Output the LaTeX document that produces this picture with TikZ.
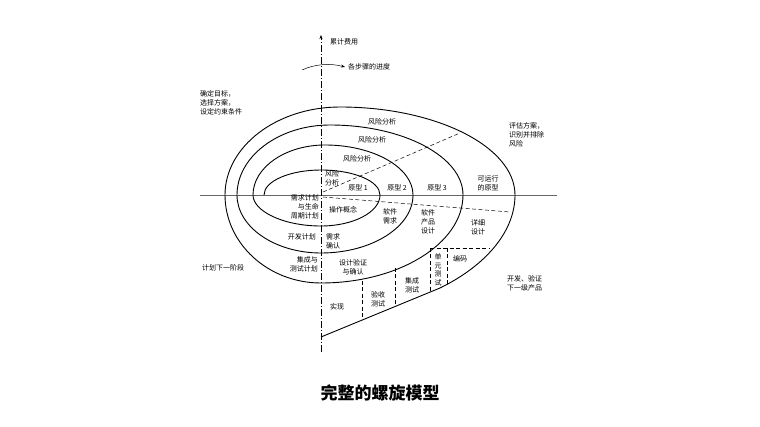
\documentclass[tikz,border=0pt]{standalone}
\usepackage{fontspec}
\setmainfont{Liberation Serif}
\newfontfamily\cjk{Noto Sans CJK SC}
\usetikzlibrary{arrows.meta}
\begin{document}
\begin{tikzpicture}[x=1pt,y=-1pt,
  lbl/.style={font=\cjk\fontsize{7}{9}\selectfont, inner sep=0pt, align=center},
  spir/.style={line width=0.9pt},
  dsh/.style={dash pattern=on 4pt off 2.5pt, line width=0.5pt}]
\useasboundingbox (0,0) rectangle (760,427);
% axes
\coordinate (xl) at (200,195); \coordinate (xr) at (557,195);
\coordinate (yt) at (321,35); \coordinate (yb) at (321,352);
\draw[gray!80!black, line width=0.7pt] (xl) -- (xr);
\draw[line width=0.5pt, dash pattern=on 7pt off 2pt on 1pt off 2pt, -{Stealth[length=4pt,width=3pt]}] (yb) -- (yt);
\coordinate (ca) at (302,70); \coordinate (cb) at (345,67);
\draw[line width=0.5pt, -{Stealth[length=4pt,width=3pt]}] (ca) .. controls (315,64) and (330,63) .. (cb);
% spiral
\draw[spir] (264,195) .. controls (264,181) and (290,170) .. (321,170)
 .. controls (353.5,170) and (380,181) .. (380,195)
 .. controls (380,212) and (353.5,226) .. (321,226)
 .. controls (283,226) and (253,211) .. (253,195)
 .. controls (253,167.5) and (285.4,145) .. (325,145)
 .. controls (373.4,145) and (413,167.5) .. (413,195)
 .. controls (413,227) and (371.6,253) .. (321,253)
 .. controls (274.8,253) and (237,227) .. (237,195)
 .. controls (237,156.5) and (278.8,125) .. (330,125)
 .. controls (403,125) and (463,156.5) .. (463,195)
 .. controls (463,243.4) and (399,283) .. (321,283)
 .. controls (268,283) and (225,243.4) .. (225,195)
 .. controls (225,146.6) and (276.7,107) .. (340,107)
 .. controls (436,107) and (515,146.6) .. (515,195)
 .. controls (515,232) and (485,266) .. (440,288)
 -- (321,337);
% dashed
\draw[dsh] (323,192) -- (460,133);
\draw[dsh] (323,197) -- (510,212);
\draw[dsh] (430,248) -- (490,248);
\draw[dsh] (430,248) -- (430,292);
\draw[dsh] (447,248) -- (447,285);
\draw[dsh] (395,268) -- (395,306);
\draw[dsh] (362,281) -- (362,320);
% labels
\node[lbl, anchor=west] (t1) at (330,42) {累计费用};
\node[lbl, anchor=west] (t2) at (348,67) {各步骤的进度};
\node[lbl, anchor=north west, align=left] (t3) at (200,90) {确定目标，\\选择方案，\\设定约束条件};
\node[lbl, anchor=north west, align=left] (t4) at (509,122) {评估方案，\\识别并排除\\风险};
\node[lbl] (r1) at (382,122) {风险分析};
\node[lbl] (r2) at (372,140) {风险分析};
\node[lbl] (r3) at (357,159) {风险分析};
\node[lbl, align=left, anchor=west] (r4) at (325,178) {风险\\分析};
\node[lbl] (p1) at (358,188) {原型 1};
\node[lbl] (p2) at (397,188) {原型 2};
\node[lbl] (p3) at (437,188) {原型 3};
\node[lbl] (p4) at (488,183) {可运行\\的原型};
\node[lbl, align=right, anchor=east] (a1) at (319,207) {需求计划\\与生命\\周期计划};
\node[lbl] (a2) at (343,210) {操作概念};
\node[lbl] (a3) at (390,216) {软件\\需求};
\node[lbl] (a4) at (428,222) {软件\\产品\\设计};
\node[lbl] (a5) at (478,227) {详细\\设计};
\node[lbl, anchor=east] (b1) at (316,237) {开发计划};
\node[lbl] (b2) at (333,241) {需求\\确认};
\node[lbl, align=right, anchor=east] (b3) at (318,264) {集成与\\测试计划};
\node[lbl, font=\cjk\fontsize{7}{8.5}\selectfont] (b5) at (438,270) {单\\元\\测\\试};
\node[lbl] (b4) at (353,267) {设计验证\\与确认};
\node[lbl] (b6) at (460,259) {编码};
\node[lbl] (b7) at (412,285) {集成\\测试};
\node[lbl] (b8) at (378,299) {验收\\测试};
\node[lbl] (b9) at (337,307) {实现};
\node[lbl, anchor=west] (c1) at (202,268) {计划下一阶段};
\node[lbl, align=left, anchor=west] (c2) at (507,283) {开发、验证\\下一级产品};
\node[font=\cjk\bfseries\fontsize{17}{20}\selectfont, inner sep=0pt] (title) at (380,393) {完整的螺旋模型};
\end{tikzpicture}
\end{document}
